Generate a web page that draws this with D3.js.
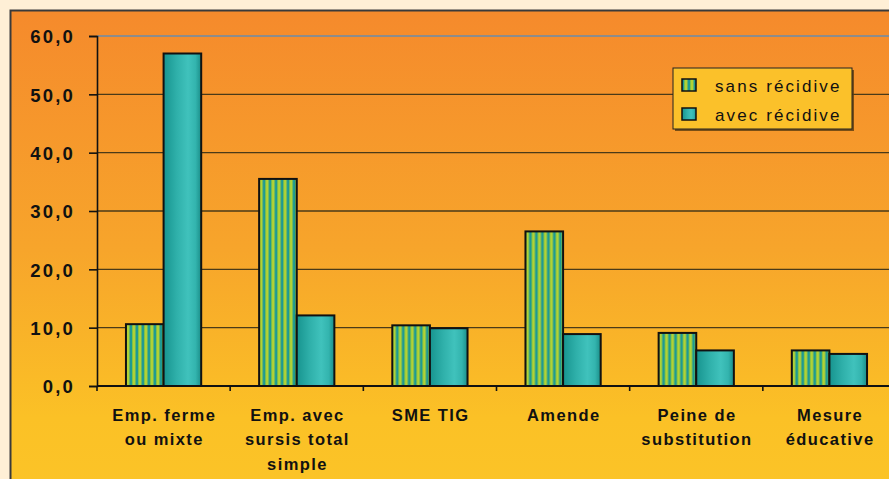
<!DOCTYPE html>
<html><head><meta charset="utf-8">
<script src="https://cdn.jsdelivr.net/npm/d3@7"></script>
<style>html,body{margin:0;padding:0;background:#FEEFD6;}svg{display:block;}</style>
</head><body>
<svg id="c" width="889" height="479"></svg>
<script>
const categories = ["Emp. ferme|ou mixte", "Emp. avec|sursis total|simple", "SME TIG", "Amende", "Peine de|substitution", "Mesure|éducative"];
const seriesNames = ["sans récidive", "avec récidive"];
const sansRecidive = [10.6, 35.5, 10.4, 26.5, 9.1, 6.1];
const avecRecidive = [57.0, 12.1, 9.9, 8.9, 6.1, 5.5];
const yTicks = [0, 10, 20, 30, 40, 50, 60];

const svg = d3.select("#c");
const defs = svg.append("defs");

const bg = defs.append("linearGradient").attr("id","bg").attr("x1",0).attr("y1",0).attr("x2",0).attr("y2",1);
[[0,"#F58A2C"],[0.5,"#F7A52B"],[0.85,"#FBC126"],[1,"#FBC427"]].forEach(s=>bg.append("stop").attr("offset",s[0]).attr("stop-color",s[1]));

const tube = defs.append("linearGradient").attr("id","tube").attr("x1",0).attr("y1",0).attr("x2",1).attr("y2",0);
[[0,"#17948F"],[0.35,"#2FB0AA"],[0.65,"#40C2BC"],[0.85,"#33B4AE"],[1,"#1A8E89"]].forEach(s=>tube.append("stop").attr("offset",s[0]).attr("stop-color",s[1]));

const pat = defs.append("pattern").attr("id","stripes").attr("patternUnits","userSpaceOnUse").attr("width",6).attr("height",6);
pat.append("rect").attr("width",6).attr("height",6).attr("fill","#B2D235");
pat.append("rect").attr("x",3.5).attr("width",2.5).attr("height",6).attr("fill","#1E9A93");
pat.append("rect").attr("x",0).attr("width",1).attr("height",6).attr("fill","#7DC04A");

// panel
svg.append("rect").attr("x",10).attr("y",10).attr("width",890).attr("height",480).attr("fill","url(#bg)");
svg.append("path").attr("d","M10.5,480 V10.5 H889").attr("fill","none").attr("stroke","#3a3a3a").attr("stroke-width",2);

const y = d3.scaleLinear().domain([0,60]).range([386,36]);
const x0 = d3.scaleBand().domain(categories).range([97,896]).paddingInner(0.435).paddingOuter(0.2175);
const x1 = d3.scaleBand().domain(seriesNames).range([0,x0.bandwidth()]);
const step = x0.step();

// gridlines
svg.append("g").selectAll("line").data(yTicks.filter(t=>t>0 && t<60)).join("line")
  .attr("x1",97).attr("x2",889).attr("y1",d=>y(d)).attr("y2",d=>y(d))
  .attr("stroke","#4a3a18").attr("stroke-width",1.3);
svg.append("line").attr("x1",97).attr("x2",889).attr("y1",y(60)).attr("y2",y(60)).attr("stroke","#8C8C8C").attr("stroke-width",2.2);

// y axis
const yAxis = d3.axisLeft(y).tickValues(yTicks).tickSize(8).tickFormat(d=>d3.format(".1f")(d).replace(".",","));
const ga = svg.append("g").attr("transform","translate(97,0)").call(yAxis);
ga.select(".domain").attr("stroke","#111").attr("stroke-width",1.6);
ga.selectAll(".tick line").attr("stroke","#111").attr("stroke-width",1.6);
ga.selectAll(".tick text").attr("x",-22).attr("dy","0.37em")
  .attr("font-family","'Liberation Sans', Arial, sans-serif").attr("font-weight","bold")
  .attr("font-size","18.5px").attr("letter-spacing","2.2px").attr("fill","#111");

// bars
const data = categories.map((c,i)=>({c, vals:[{s:seriesNames[0],v:sansRecidive[i]},{s:seriesNames[1],v:avecRecidive[i]}]}));
const groups = svg.append("g").selectAll("g").data(data).join("g").attr("transform",d=>`translate(${x0(d.c)},0)`);
groups.selectAll("rect").data(d=>d.vals).join("rect")
  .attr("x",d=>x1(d.s)).attr("width",x1.bandwidth())
  .attr("y",d=>y(d.v)).attr("height",d=>y(0)-y(d.v))
  .attr("fill",d=>d.s===seriesNames[0]?"url(#stripes)":"url(#tube)")
  .attr("stroke","#111").attr("stroke-width",2);

// x axis
svg.append("line").attr("x1",97).attr("x2",889).attr("y1",386).attr("y2",386).attr("stroke","#111").attr("stroke-width",1.8);
svg.append("g").selectAll("line").data(d3.range(categories.length+1)).join("line")
  .attr("x1",d=>97+d*step).attr("x2",d=>97+d*step).attr("y1",386).attr("y2",391)
  .attr("stroke","#111").attr("stroke-width",1.6);

const xl = svg.append("g").selectAll("text").data(categories).join("text")
  .attr("x",d=>x0(d)+x0.bandwidth()/2).attr("y",420.5)
  .attr("text-anchor","middle")
  .attr("font-family","'Liberation Sans', Arial, sans-serif").attr("font-weight","bold")
  .attr("font-size","16.5px").attr("letter-spacing","1.4px").attr("fill","#111");
xl.each(function(d){
  const t = d3.select(this);
  d.split("|").forEach((ln,i)=>t.append("tspan").attr("x",x0(d)+x0.bandwidth()/2+0.7).attr("dy",i===0?0:24.5).text(ln));
});

// legend
const lg = svg.append("g");
lg.append("rect").attr("x",675).attr("y",70).attr("width",179).attr("height",61).attr("fill","#5a3c10").attr("opacity",0.8);
lg.append("rect").attr("x",673).attr("y",68).attr("width",179).attr("height",61).attr("fill","#FBC12A").attr("stroke","#222").attr("stroke-width",1);
seriesNames.forEach((s,i)=>{
  lg.append("rect").attr("x",682).attr("y",79+i*29).attr("width",14).attr("height",12)
    .attr("fill",i===0?"url(#stripes)":"url(#tube)").attr("stroke","#111").attr("stroke-width",1.5);
  lg.append("text").attr("x",715).attr("y",91.5+i*29).text(s)
    .attr("font-family","'Liberation Sans', Arial, sans-serif").attr("font-size","17px")
    .attr("letter-spacing","2.1px").attr("fill","#111");
});
</script>
</body></html>
